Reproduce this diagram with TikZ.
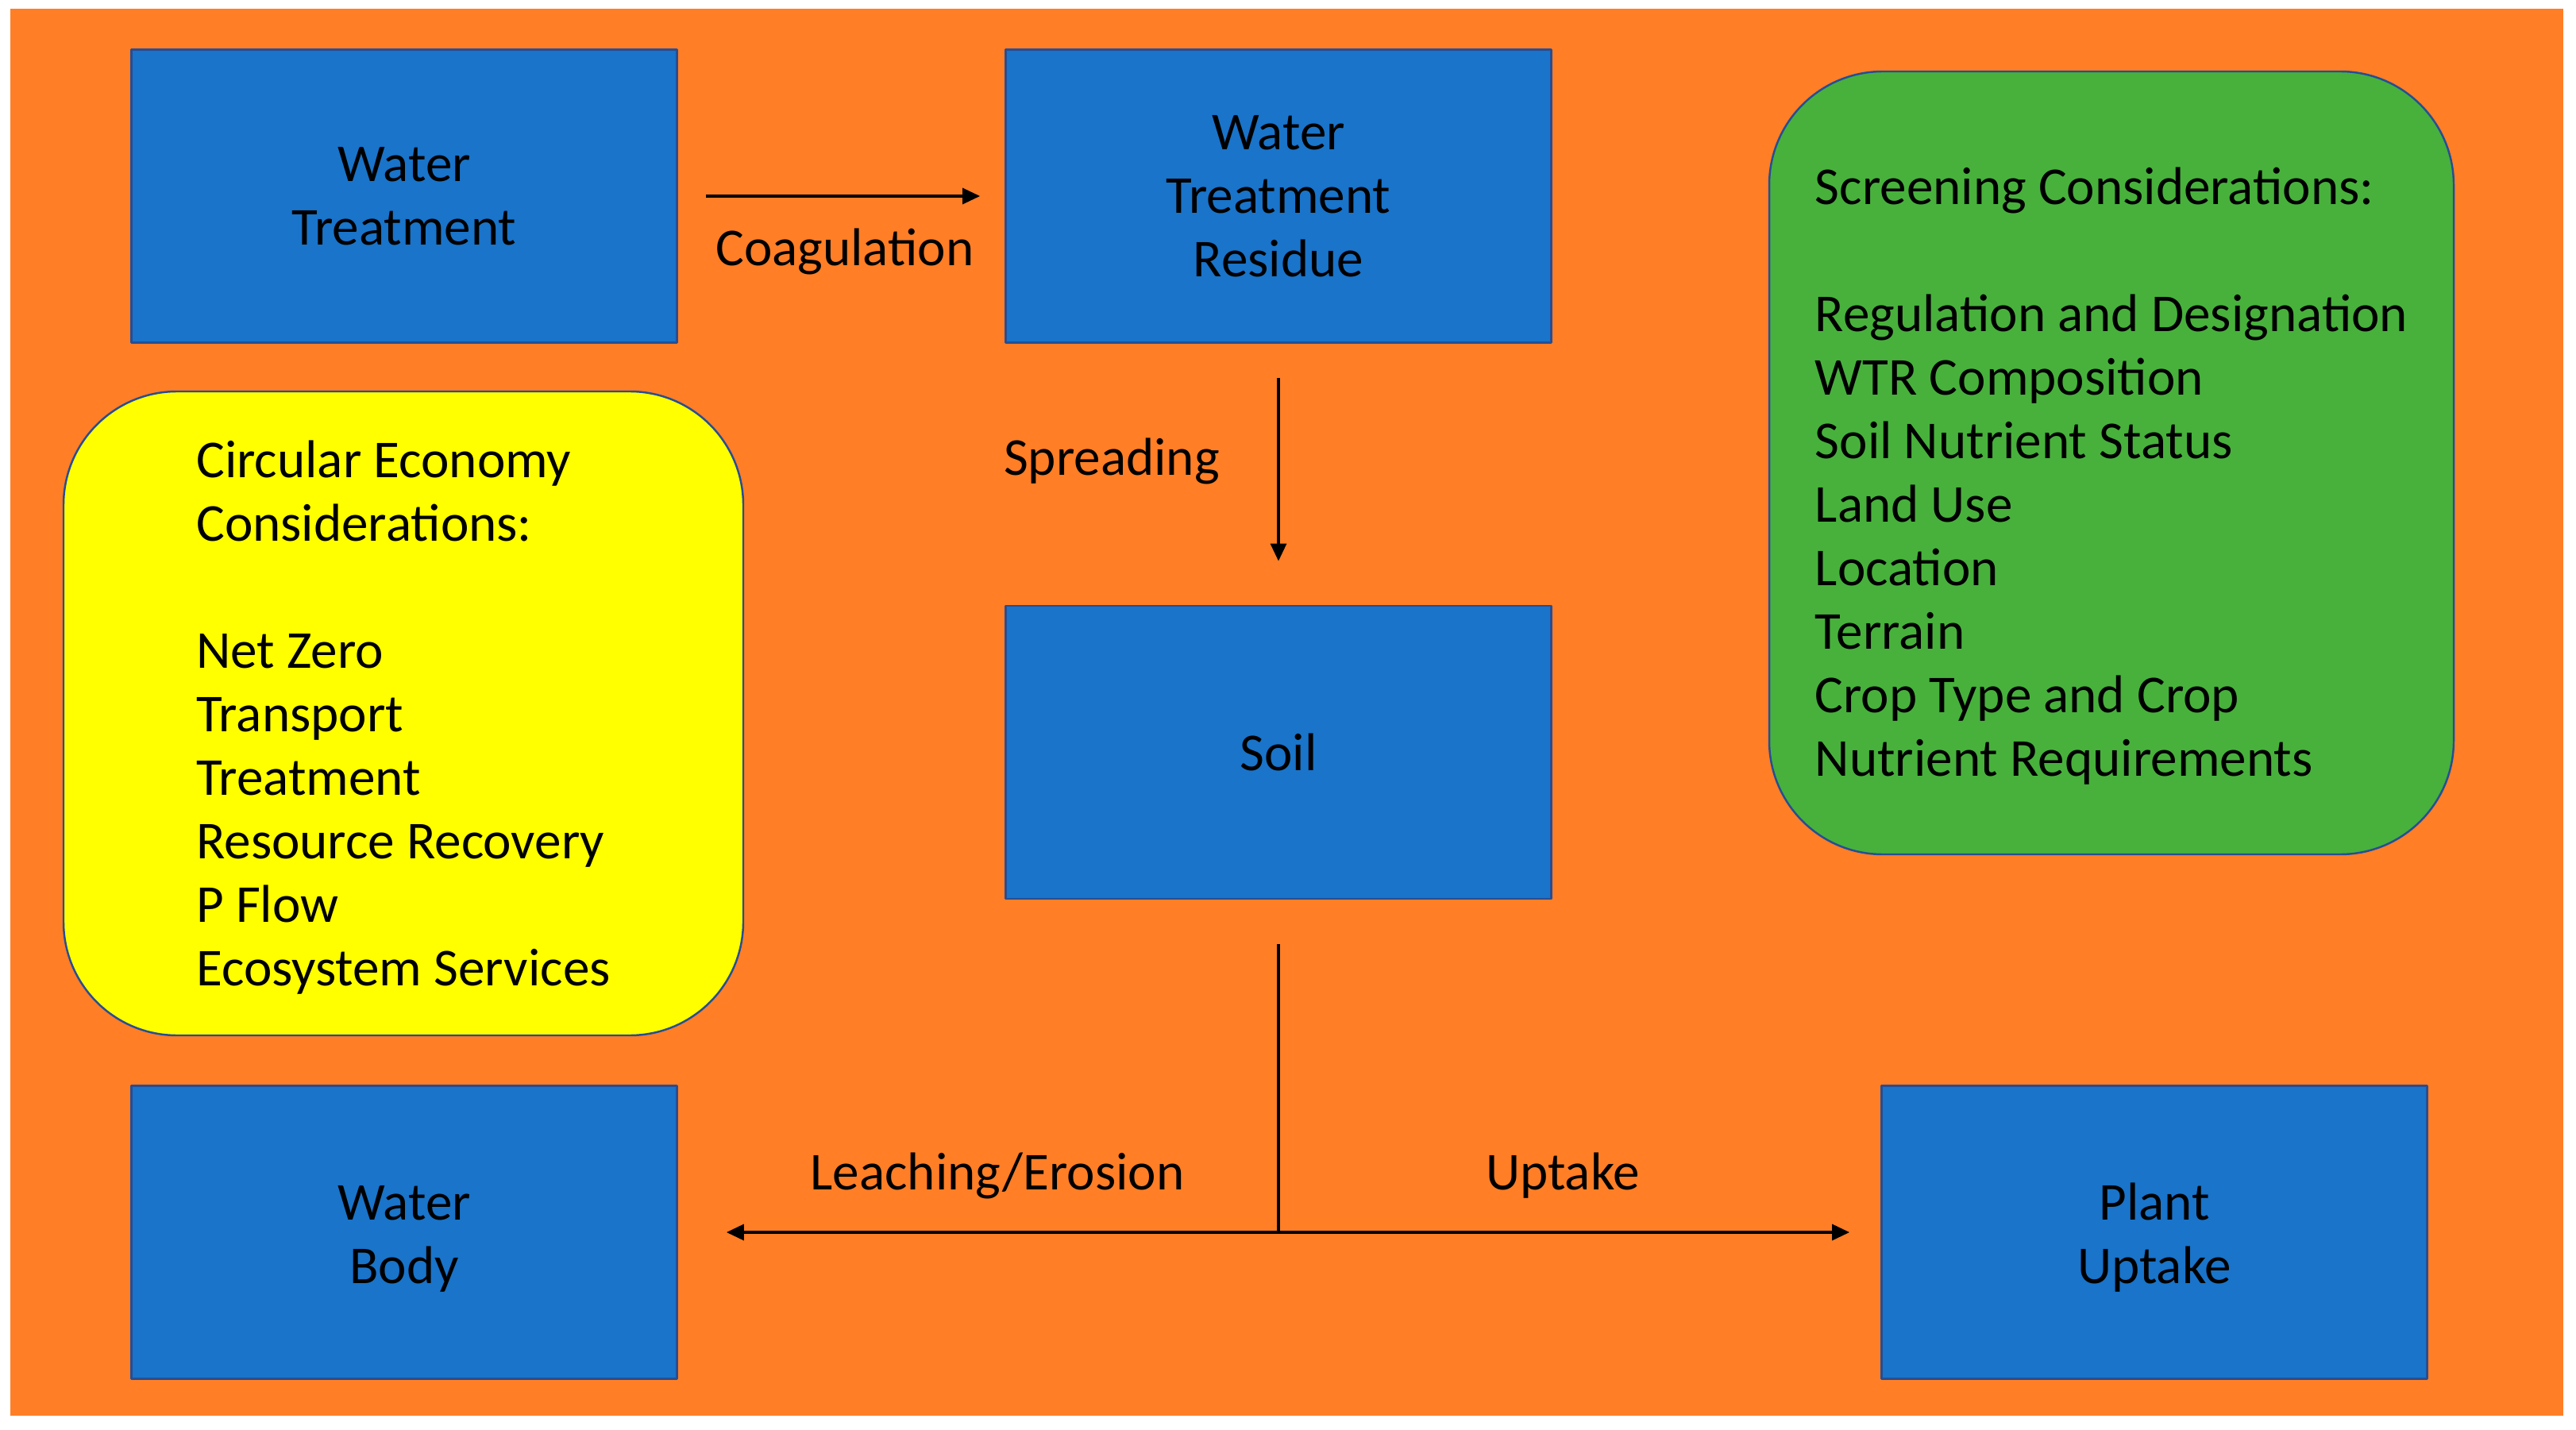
\documentclass[tikz,border=0pt]{standalone}
\usepackage{fontspec}
\setmainfont{Carlito}
\usetikzlibrary{arrows.meta}
\definecolor{bgorange}{RGB}{255,126,38}
\definecolor{boxblue}{RGB}{25,116,202}
\definecolor{edgeblue}{RGB}{38,78,148}
\definecolor{notegreen}{RGB}{71,177,60}
\definecolor{noteyellow}{RGB}{255,255,0}
\begin{document}
\begin{tikzpicture}[>={Triangle[length=2.2mm,width=2mm]}, line join=round,
	font=\fontsize{19.1}{22.75}\selectfont,
	blok/.style={draw=edgeblue,line width=0.8pt,fill=boxblue,align=center,
		minimum width=6.87cm,minimum height=3.69cm,inner sep=0pt},
	note/.style={draw=edgeblue,line width=0.7pt,rounded corners=1.43cm,align=left,inner sep=0pt},
	flow/.style={->,line width=0.9pt}]
	\useasboundingbox (0,0) rectangle (32.44,18);
	\fill[bgorange] (0.13,0.17) rectangle (32.28,17.89);
	% khoi chinh
	\node[blok] (wt) at (5.09,15.53) {Water\\Treatment};
	\node[blok] (wtr) at (16.10,15.53) {Water\\Treatment\\Residue};
	\node[blok] (soil) at (16.10,8.525) {Soil};
	\node[blok] (wb) at (5.09,2.48) {\rule{0pt}{0.6cm}Water\\Body};
	\node[blok] (pu) at (27.13,2.48) {\rule{0pt}{0.6cm}Plant\\Uptake};
	% ghi chu
	\node[note,fill=noteyellow,minimum width=8.56cm,minimum height=8.11cm] (ce) at (5.08,9.015)
	{\rule{0pt}{0.57cm}Circular Economy\\Considerations:\\[22.75pt]Net Zero\\Transport\\Treatment\\Resource Recovery\\P Flow\\Ecosystem Services};
	\node[note,fill=notegreen,minimum width=8.62cm,minimum height=9.86cm] (sc) at (26.59,12.17)
	{\rule{0pt}{0.8cm}Screening Considerations:\\[22.75pt]Regulation and Designation\\WTR Composition\\Soil Nutrient Status\\Land Use\\Location\\Terrain\\Crop Type and Crop\\Nutrient Requirements};
	% nhan
	\node[anchor=base] (coag) at (10.64,14.65) {Coagulation};
	\node[anchor=base] (spread) at (14.00,12.01) {Spreading};
	\node[anchor=base] (leach) at (12.56,3.02) {Leaching/Erosion};
	\node[anchor=base] (upt) at (19.68,3.02) {Uptake};
	% mui ten
	\draw[flow,shorten <=0.35cm,shorten >=0.31cm] (wt.east) -- (wtr.west);
	\draw[flow,shorten <=0.43cm,shorten >=0.55cm] (wtr.south) -- (soil.north);
	\coordinate (fork) at (soil.south |- wb.east);
	\draw[line width=1pt,shorten <=0.56cm] (soil.south) -- (fork);
	\draw[flow,line width=1pt,shorten >=0.61cm] (fork) -- (wb.east);
	\draw[flow,line width=1pt,shorten >=0.39cm] (fork) -- (pu.west);
\end{tikzpicture}
\end{document}
